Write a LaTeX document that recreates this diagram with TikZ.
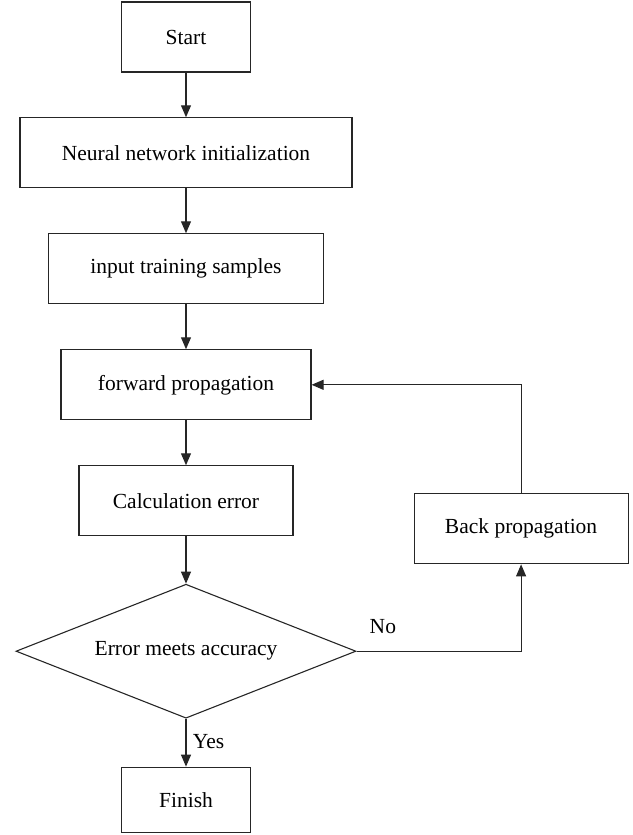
\documentclass[tikz,border=0pt]{standalone}
\usepackage{fontspec}
\setmainfont{Liberation Serif}
\usetikzlibrary{positioning,arrows.meta,shapes.geometric}

\begin{document}
\begin{tikzpicture}[
  x=1pt, y=-1pt,
  font=\fontsize{21.5}{26}\selectfont,
  box/.style={draw=black!85, line width=1.1pt, align=center,
              inner sep=4pt, minimum height=70pt},
  dec/.style={diamond, draw=black!85, line width=1.1pt, aspect=2.5,
              inner sep=0pt, minimum width=340pt, minimum height=134pt},
  arr/.style={-{Triangle[length=12pt, width=10pt]}, draw=black!85,
              line width=1.1pt}]

\useasboundingbox (0,0) rectangle (632,835);

\node[box, minimum width=129pt] (start) at (186,37) {Start};

\node[box, below=44.7pt of start, minimum width=332pt] (init)
  {Neural network initialization};

\node[box, below=44.9pt of init, minimum width=275pt] (input)
  {input training samples};

\node[box, below=44.9pt of input, minimum width=250pt] (fwd)
  {forward propagation};

\node[box, below=44.9pt of fwd, minimum width=214pt] (calc)
  {Calculation error};

\node[dec, below=47.3pt of calc] (check) {Error meets accuracy};

\node[box, below=47.9pt of check, minimum width=129pt,
      minimum height=65pt] (finish) {Finish};

\node[box, right=120pt of calc, yshift=-28pt, minimum width=214pt] (back)
  {Back propagation};

\foreach \a/\b in {start/init, init/input, input/fwd, fwd/calc, calc/check}
  \draw[arr] (\a) -- (\b);
\draw[arr] (check) -- node[right=3pt, pos=0.48] {Yes} (finish);
\draw[arr] (check.east) -| node[above=14pt, pos=0.08] {No} (back.south);
\draw[arr] (back.north) |- (fwd.east);
\end{tikzpicture}
\end{document}
